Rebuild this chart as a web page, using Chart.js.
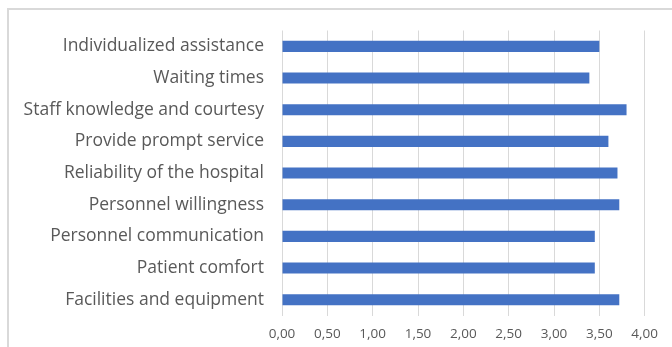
<!DOCTYPE html>
<html>
<head>
<meta charset="utf-8">
<script src="https://cdn.jsdelivr.net/npm/chart.js@4"></script>
<style>
  html, body { margin: 0; background: #fff; overflow: hidden; }
  .frame {
    position: absolute; left: 7px; top: 8px; width: 663px; height: 337px;
    border-top: 2px solid #d9d9d9; border-left: 2px solid #d9d9d9;
  }
  canvas { display: block; }
</style>
</head>
<body>
<div class="frame"><canvas id="chart" width="660" height="337"></canvas></div>
<script>
// survey dimensions, top to bottom
const categories = [
  'Individualized assistance',
  'Waiting times',
  'Staff knowledge and courtesy',
  'Provide prompt service',
  'Reliability of the hospital',
  'Personnel willingness',
  'Personnel communication',
  'Patient comfort',
  'Facilities and equipment'
];
const scores = [3.50, 3.39, 3.80, 3.60, 3.70, 3.72, 3.45, 3.45, 3.72];
const xMin = 0, xMax = 4, xStep = 0.5;

const fmt = v => v.toFixed(2).replace('.', ',');

new Chart(document.getElementById('chart'), {
  type: 'bar',
  data: {
    labels: categories,
    datasets: [{
      data: scores,
      backgroundColor: '#4472C4',
      barPercentage: 0.35,
      categoryPercentage: 1
    }]
  },
  options: {
    indexAxis: 'y',
    responsive: false,
    animation: false,
    layout: { padding: { top: 5.5, right: 0, left: 0, bottom: 0 } },
    plugins: { legend: { display: false }, tooltip: { enabled: false } },
    scales: {
      x: {
        min: xMin, max: xMax,
        grid: { color: '#d9d9d9', drawTicks: false },
        border: { display: false },
        ticks: {
          stepSize: xStep,
          padding: 11,
          color: '#595959',
          font: { family: 'Open Sans', size: 13.5 },
          callback: v => fmt(v)
        },
        afterFit: s => { s.height = 31.5; }
      },
      y: {
        grid: { display: false },
        border: { display: false },
        ticks: {
          padding: 10,
          color: '#595959',
          font: { family: 'Open Sans', size: 17.5 }
        },
        afterFit: s => { s.width = 273; }
      }
    }
  }
});
</script>
</body>
</html>
